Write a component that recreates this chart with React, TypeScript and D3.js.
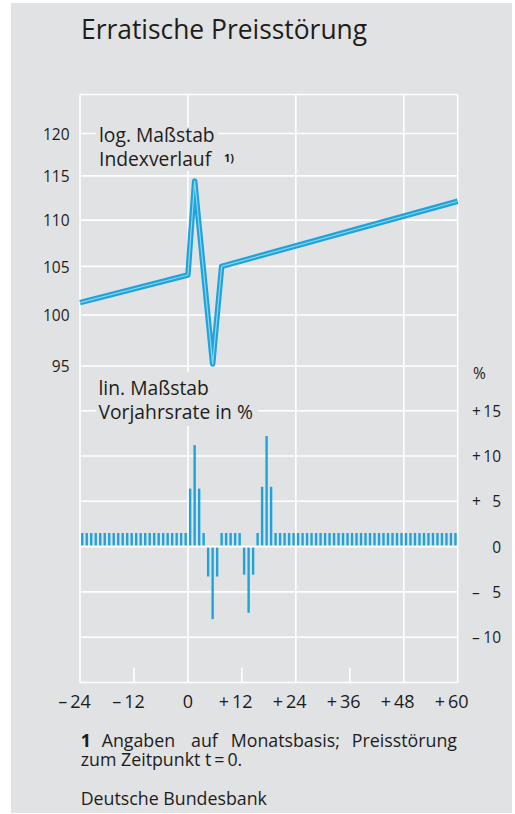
import React from "react";
import * as d3 from "d3";

const W = 515;
const H = 814;

// ---- data ----
const indexMonths = [-24, 0, 1.5, 5.5, 7.5, 60];
const indexValues = [101.25, 104.1, 114.4, 95.2, 105.0, 112.1];

const rateMonths = d3.range(-23, 61);
const rateValues = [
  1.5, 1.5, 1.5, 1.5, 1.5, 1.5, 1.5, 1.5, 1.5, 1.5, 1.5, 1.5,
  1.5, 1.5, 1.5, 1.5, 1.5, 1.5, 1.5, 1.5, 1.5, 1.5, 1.5, 1.5,
  6.4, 11.2, 6.4, 1.5, -3.3, -8.0, -3.3, 1.5, 1.5, 1.5, 1.5, 1.5,
  -3.1, -7.3, -3.1, 1.5, 6.6, 12.2, 6.6,
  1.5, 1.5, 1.5, 1.5, 1.5, 1.5, 1.5, 1.5, 1.5, 1.5, 1.5, 1.5,
  1.5, 1.5, 1.5, 1.5, 1.5, 1.5, 1.5, 1.5, 1.5, 1.5, 1.5, 1.5,
  1.5, 1.5, 1.5, 1.5, 1.5, 1.5, 1.5, 1.5, 1.5, 1.5, 1.5, 1.5,
  1.5, 1.5, 1.5, 1.5, 1.5,
];

const indexTicks = [95, 100, 105, 110, 115, 120];
const rateTicks = [15, 10, 5, 0, -5, -10];
const xMajor = [-24, 0, 24, 48, 60];
const xMinor = [-12, 12, 36];
const xLabels = [-24, -12, 0, 12, 24, 36, 48, 60];

const title = "Erratische Preisstörung";
const footWords = ["Angaben", "auf", "Monatsbasis;", "Preisstörung"];
const footWordX = [101.7, 191, 230.7, 457];
const footLine2 = "zum Zeitpunkt t\u2009=\u20090.";
const source = "Deutsche Bundesbank";

// ---- styles ----
const BG = "#e1e2e4";
const BLUE = "#1ea4da";
const TEXT = "#1d1d1b";
const FONT = "'Open Sans', 'Noto Sans', sans-serif";

const left = 80;
const right = 457.7;
const gridTop = 94.5;
const gridBottom = 682.5;

const x = d3.scaleLinear().domain([-24, 60]).range([left, right]);
const yIdx = d3.scaleLog().domain([95, 120]).range([366, 133.5]);
const yRate = d3.scaleLinear().domain([-15, 15]).range([682.5, 410.7]);

const signed = (v: number) =>
  v > 0 ? `+\u2009${v}` : v < 0 ? `\u2013\u2009${-v}` : "0";

export default function App() {
  const line = d3
    .line<number>()
    .x((_, i) => x(indexMonths[i]))
    .y((d) => yIdx(d));
  const path = line(indexValues) || "";

  const barW = 2.4;
  const y0 = yRate(0);

  return (
    <svg
      width={W}
      height={H}
      style={{ position: "absolute", left: 0, top: 0 }}
      fontFamily={FONT}
    >
      <rect x={0} y={0} width={W} height={H} fill="#fff" />
      <rect x={11} y={3} width={501} height={810} fill={BG} />

      <text x={81} y={38.5} fontSize={26.4} fill={TEXT}>
        {title}
      </text>

      {/* grid */}
      <g stroke="#fff" strokeWidth={1.6}>
        <line x1={left} x2={right} y1={gridTop} y2={gridTop} />
        <line x1={left} x2={right} y1={gridBottom} y2={gridBottom} />
        {indexTicks.map((t) => (
          <line key={"i" + t} x1={left} x2={right} y1={yIdx(t)} y2={yIdx(t)} />
        ))}
        {rateTicks.map((t) => (
          <line key={"r" + t} x1={left} x2={right} y1={yRate(t)} y2={yRate(t)} />
        ))}
        {xMajor.map((t) => (
          <line key={"x" + t} x1={x(t)} x2={x(t)} y1={gridTop} y2={gridBottom} />
        ))}
        {xMinor.map((t) => (
          <line key={"m" + t} x1={x(t)} x2={x(t)} y1={gridBottom - 15} y2={gridBottom} />
        ))}
      </g>

      {/* label boxes */}
      <rect x={96} y={127} width={122} height={44} fill={BG} />
      <rect x={96} y={372} width={162} height={54} fill={BG} />

      <g fill={TEXT} fontSize={19.3}>
        <text x={99} y={142.3}>log. Maßstab</text>
        <text x={99} y={166}>Indexverlauf</text>
        <text x={224} y={162} fontSize={11} fontWeight="bold">1)</text>
        <text x={98.5} y={395}>lin. Maßstab</text>
        <text x={98.5} y={418.5}>Vorjahrsrate in %</text>
      </g>

      {/* bars */}
      <g fill={BLUE}>
        {rateValues.map((v, i) => {
          const cx = x(rateMonths[i] - 0.5);
          const yv = yRate(v);
          return (
            <rect
              key={i}
              x={cx - barW / 2}
              y={v >= 0 ? yv : y0 + 1}
              width={barW}
              height={v >= 0 ? y0 - 1.2 - yv : yv - y0 - 1}
            />
          );
        })}
      </g>

      {/* index line */}
      <path d={path} fill="none" stroke={BLUE} strokeWidth={5.5} strokeLinejoin="round" />
      <path d={path} fill="none" stroke="#8fd2ee" strokeWidth={1.2} strokeLinejoin="round" />

      {/* left axis labels */}
      <g fill={TEXT} fontSize={15.5} textAnchor="end">
        {indexTicks.map((t) => (
          <text key={t} x={69.5} y={yIdx(t) + 6.3}>
            {t}
          </text>
        ))}
      </g>

      {/* right axis labels */}
      <g fill={TEXT} fontSize={15.5}>
        <text x={473} y={379}>%</text>
        {rateTicks.map((t) => (
          <g key={t}>
            {t !== 0 && (
              <text x={472} y={yRate(t) + 5.9}>
                {t > 0 ? "+" : "\u2013"}
              </text>
            )}
            <text x={501} y={yRate(t) + 5.9} textAnchor="end">
              {Math.abs(t)}
            </text>
          </g>
        ))}
      </g>

      {/* x labels */}
      <g fill={TEXT} fontSize={18}>
        {xLabels.map((t) => (
          <text
            key={t}
            x={t === 0 ? x(t) : x(t) + 10.8}
            y={708}
            textAnchor={t === 0 ? "middle" : "end"}
          >
            {signed(t)}
          </text>
        ))}
      </g>

      {/* footnote */}
      <g fill={TEXT} fontSize={17.8}>
        <text x={80.7} y={746.7} fontWeight="bold">1</text>
        {footWords.map((w, i) => (
          <text
            key={w}
            x={footWordX[i]}
            y={746.7}
            textAnchor={i === footWords.length - 1 ? "end" : "start"}
          >
            {w}
          </text>
        ))}
        <text x={80.7} y={765.7}>{footLine2}</text>
        <text x={80.7} y={805}>{source}</text>
      </g>
    </svg>
  );
}
